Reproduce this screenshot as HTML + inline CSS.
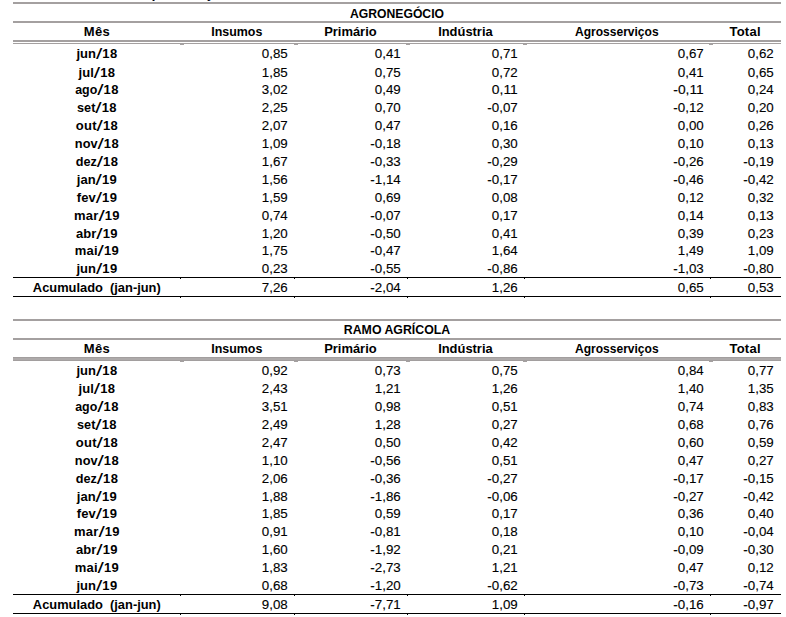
<!DOCTYPE html>
<html><head><meta charset="utf-8"><style>
html,body{margin:0;padding:0;background:#fff;width:786px;height:617px;overflow:hidden}
svg{display:block}
text{font-family:"Liberation Sans",sans-serif;white-space:pre}
text.r{font-size:13px;fill:#000;stroke:#000;stroke-width:0.12px;}
text.sl{font-size:15.5px;font-weight:normal;fill:#000}
text.b{font-size:13px;font-weight:bold;fill:#000;}
</style></head><body>
<svg width="786" height="617" viewBox="0 0 786 617">
<rect x="13" y="2" width="768" height="2" fill="#a4a0a0"/>
<rect x="13" y="21" width="768" height="2" fill="#a4a0a0"/>
<rect x="13" y="40" width="768" height="2" fill="#a4a0a0"/>
<rect x="13" y="43" width="768" height="1" fill="#a4a0a0"/>
<rect x="180" y="44" width="4" height="1" fill="#a4a0a0"/>
<rect x="294" y="44" width="4" height="1" fill="#a4a0a0"/>
<rect x="406" y="44" width="4" height="1" fill="#a4a0a0"/>
<rect x="523" y="44" width="4" height="1" fill="#a4a0a0"/>
<rect x="709" y="44" width="4" height="1" fill="#a4a0a0"/>
<rect x="13" y="277" width="768" height="1" fill="#000"/>
<rect x="13" y="296" width="768" height="1" fill="#000"/>
<rect x="180" y="278" width="1" height="1" fill="#000"/>
<rect x="180" y="297" width="1" height="1" fill="#000"/>
<rect x="294" y="278" width="1" height="1" fill="#000"/>
<rect x="294" y="297" width="1" height="1" fill="#000"/>
<rect x="407" y="278" width="1" height="1" fill="#000"/>
<rect x="407" y="297" width="1" height="1" fill="#000"/>
<rect x="524" y="278" width="1" height="1" fill="#000"/>
<rect x="524" y="297" width="1" height="1" fill="#000"/>
<rect x="710" y="278" width="1" height="1" fill="#000"/>
<rect x="710" y="297" width="1" height="1" fill="#000"/>
<text class="b" x="397.00" y="18" text-anchor="middle" textLength="94.08" lengthAdjust="spacingAndGlyphs">AGRONEGÓCIO</text>
<text class="b" x="96.80" y="36" text-anchor="middle" textLength="26.05" lengthAdjust="spacing">Mês</text>
<text class="b" x="236.80" y="36" text-anchor="middle" textLength="51.17" lengthAdjust="spacingAndGlyphs">Insumos</text>
<text class="b" x="350.40" y="36" text-anchor="middle" textLength="52.49" lengthAdjust="spacingAndGlyphs">Primário</text>
<text class="b" x="465.40" y="36" text-anchor="middle" textLength="54.51" lengthAdjust="spacingAndGlyphs">Indústria</text>
<text class="b" x="616.80" y="36" text-anchor="middle" textLength="83.65" lengthAdjust="spacingAndGlyphs">Agrosserviços</text>
<text class="b" x="745.00" y="36" text-anchor="middle" textLength="31.07" lengthAdjust="spacing">Total</text>
<text class="b" x="76.47" y="58" text-anchor="start" textLength="19.49" lengthAdjust="spacingAndGlyphs">jun</text>
<text class="sl" x="95.96" y="58.5" textLength="6.30" lengthAdjust="spacingAndGlyphs">/</text>
<text class="b" x="102.26" y="58" text-anchor="start" textLength="14.87" lengthAdjust="spacing">18</text>
<text class="r" x="287.80" y="58" text-anchor="end" textLength="25.96" lengthAdjust="spacingAndGlyphs">0,85</text>
<text class="r" x="400.80" y="58" text-anchor="end" textLength="25.96" lengthAdjust="spacingAndGlyphs">0,41</text>
<text class="r" x="517.80" y="58" text-anchor="end" textLength="25.96" lengthAdjust="spacingAndGlyphs">0,71</text>
<text class="r" x="703.80" y="58" text-anchor="end" textLength="25.96" lengthAdjust="spacingAndGlyphs">0,67</text>
<text class="r" x="773.80" y="58" text-anchor="end" textLength="25.96" lengthAdjust="spacingAndGlyphs">0,62</text>
<text class="b" x="78.61" y="77" text-anchor="start" textLength="15.22" lengthAdjust="spacing">jul</text>
<text class="sl" x="93.82" y="77.5" textLength="6.30" lengthAdjust="spacingAndGlyphs">/</text>
<text class="b" x="100.13" y="77" text-anchor="start" textLength="14.87" lengthAdjust="spacing">18</text>
<text class="r" x="287.80" y="77" text-anchor="end" textLength="25.96" lengthAdjust="spacingAndGlyphs">1,85</text>
<text class="r" x="400.80" y="77" text-anchor="end" textLength="25.96" lengthAdjust="spacingAndGlyphs">0,75</text>
<text class="r" x="517.80" y="77" text-anchor="end" textLength="25.96" lengthAdjust="spacingAndGlyphs">0,72</text>
<text class="r" x="703.80" y="77" text-anchor="end" textLength="25.96" lengthAdjust="spacingAndGlyphs">0,41</text>
<text class="r" x="773.80" y="77" text-anchor="end" textLength="25.96" lengthAdjust="spacingAndGlyphs">0,65</text>
<text class="b" x="75.18" y="94" text-anchor="start" textLength="22.08" lengthAdjust="spacingAndGlyphs">ago</text>
<text class="sl" x="97.25" y="94.5" textLength="6.30" lengthAdjust="spacingAndGlyphs">/</text>
<text class="b" x="103.56" y="94" text-anchor="start" textLength="14.87" lengthAdjust="spacing">18</text>
<text class="r" x="287.80" y="94" text-anchor="end" textLength="25.96" lengthAdjust="spacingAndGlyphs">3,02</text>
<text class="r" x="400.80" y="94" text-anchor="end" textLength="25.96" lengthAdjust="spacingAndGlyphs">0,49</text>
<text class="r" x="517.80" y="94" text-anchor="end" textLength="25.96" lengthAdjust="spacingAndGlyphs">0,11</text>
<text class="r" x="703.80" y="94" text-anchor="end" textLength="30.45" lengthAdjust="spacingAndGlyphs">-0,11</text>
<text class="r" x="773.80" y="94" text-anchor="end" textLength="25.96" lengthAdjust="spacingAndGlyphs">0,24</text>
<text class="b" x="77.06" y="112" text-anchor="start" textLength="18.32" lengthAdjust="spacingAndGlyphs">set</text>
<text class="sl" x="95.37" y="112.5" textLength="6.30" lengthAdjust="spacingAndGlyphs">/</text>
<text class="b" x="101.68" y="112" text-anchor="start" textLength="14.87" lengthAdjust="spacing">18</text>
<text class="r" x="287.80" y="112" text-anchor="end" textLength="25.96" lengthAdjust="spacingAndGlyphs">2,25</text>
<text class="r" x="400.80" y="112" text-anchor="end" textLength="25.96" lengthAdjust="spacingAndGlyphs">0,70</text>
<text class="r" x="517.80" y="112" text-anchor="end" textLength="30.45" lengthAdjust="spacingAndGlyphs">-0,07</text>
<text class="r" x="703.80" y="112" text-anchor="end" textLength="30.45" lengthAdjust="spacingAndGlyphs">-0,12</text>
<text class="r" x="773.80" y="112" text-anchor="end" textLength="25.96" lengthAdjust="spacingAndGlyphs">0,20</text>
<text class="b" x="75.79" y="130" text-anchor="start" textLength="20.84" lengthAdjust="spacing">out</text>
<text class="sl" x="96.64" y="130.5" textLength="6.30" lengthAdjust="spacingAndGlyphs">/</text>
<text class="b" x="102.94" y="130" text-anchor="start" textLength="14.87" lengthAdjust="spacing">18</text>
<text class="r" x="287.80" y="130" text-anchor="end" textLength="25.96" lengthAdjust="spacingAndGlyphs">2,07</text>
<text class="r" x="400.80" y="130" text-anchor="end" textLength="25.96" lengthAdjust="spacingAndGlyphs">0,47</text>
<text class="r" x="517.80" y="130" text-anchor="end" textLength="25.96" lengthAdjust="spacingAndGlyphs">0,16</text>
<text class="r" x="703.80" y="130" text-anchor="end" textLength="25.96" lengthAdjust="spacingAndGlyphs">0,00</text>
<text class="r" x="773.80" y="130" text-anchor="end" textLength="25.96" lengthAdjust="spacingAndGlyphs">0,26</text>
<text class="b" x="74.87" y="148" text-anchor="start" textLength="22.70" lengthAdjust="spacingAndGlyphs">nov</text>
<text class="sl" x="97.56" y="148.5" textLength="6.30" lengthAdjust="spacingAndGlyphs">/</text>
<text class="b" x="103.86" y="148" text-anchor="start" textLength="14.87" lengthAdjust="spacing">18</text>
<text class="r" x="287.80" y="148" text-anchor="end" textLength="25.96" lengthAdjust="spacingAndGlyphs">1,09</text>
<text class="r" x="400.80" y="148" text-anchor="end" textLength="30.45" lengthAdjust="spacingAndGlyphs">-0,18</text>
<text class="r" x="517.80" y="148" text-anchor="end" textLength="25.96" lengthAdjust="spacingAndGlyphs">0,30</text>
<text class="r" x="703.80" y="148" text-anchor="end" textLength="25.96" lengthAdjust="spacingAndGlyphs">0,10</text>
<text class="r" x="773.80" y="148" text-anchor="end" textLength="25.96" lengthAdjust="spacingAndGlyphs">0,13</text>
<text class="b" x="75.67" y="166" text-anchor="start" textLength="21.08" lengthAdjust="spacingAndGlyphs">dez</text>
<text class="sl" x="96.76" y="166.5" textLength="6.30" lengthAdjust="spacingAndGlyphs">/</text>
<text class="b" x="103.06" y="166" text-anchor="start" textLength="14.87" lengthAdjust="spacing">18</text>
<text class="r" x="287.80" y="166" text-anchor="end" textLength="25.96" lengthAdjust="spacingAndGlyphs">1,67</text>
<text class="r" x="400.80" y="166" text-anchor="end" textLength="30.45" lengthAdjust="spacingAndGlyphs">-0,33</text>
<text class="r" x="517.80" y="166" text-anchor="end" textLength="30.45" lengthAdjust="spacingAndGlyphs">-0,29</text>
<text class="r" x="703.80" y="166" text-anchor="end" textLength="30.45" lengthAdjust="spacingAndGlyphs">-0,26</text>
<text class="r" x="773.80" y="166" text-anchor="end" textLength="30.45" lengthAdjust="spacingAndGlyphs">-0,19</text>
<text class="b" x="76.79" y="184" text-anchor="start" textLength="18.86" lengthAdjust="spacing">jan</text>
<text class="sl" x="95.64" y="184.5" textLength="6.30" lengthAdjust="spacingAndGlyphs">/</text>
<text class="b" x="101.95" y="184" text-anchor="start" textLength="14.87" lengthAdjust="spacing">19</text>
<text class="r" x="287.80" y="184" text-anchor="end" textLength="25.96" lengthAdjust="spacingAndGlyphs">1,56</text>
<text class="r" x="400.80" y="184" text-anchor="end" textLength="30.45" lengthAdjust="spacingAndGlyphs">-1,14</text>
<text class="r" x="517.80" y="184" text-anchor="end" textLength="30.45" lengthAdjust="spacingAndGlyphs">-0,17</text>
<text class="r" x="703.80" y="184" text-anchor="end" textLength="30.45" lengthAdjust="spacingAndGlyphs">-0,46</text>
<text class="r" x="773.80" y="184" text-anchor="end" textLength="30.45" lengthAdjust="spacingAndGlyphs">-0,42</text>
<text class="b" x="76.73" y="202" text-anchor="start" textLength="18.96" lengthAdjust="spacing">fev</text>
<text class="sl" x="95.70" y="202.5" textLength="6.30" lengthAdjust="spacingAndGlyphs">/</text>
<text class="b" x="102.00" y="202" text-anchor="start" textLength="14.87" lengthAdjust="spacing">19</text>
<text class="r" x="287.80" y="202" text-anchor="end" textLength="25.96" lengthAdjust="spacingAndGlyphs">1,59</text>
<text class="r" x="400.80" y="202" text-anchor="end" textLength="25.96" lengthAdjust="spacingAndGlyphs">0,69</text>
<text class="r" x="517.80" y="202" text-anchor="end" textLength="25.96" lengthAdjust="spacingAndGlyphs">0,08</text>
<text class="r" x="703.80" y="202" text-anchor="end" textLength="25.96" lengthAdjust="spacingAndGlyphs">0,12</text>
<text class="r" x="773.80" y="202" text-anchor="end" textLength="25.96" lengthAdjust="spacingAndGlyphs">0,32</text>
<text class="b" x="74.02" y="220" text-anchor="start" textLength="24.39" lengthAdjust="spacing">mar</text>
<text class="sl" x="98.41" y="220.5" textLength="6.30" lengthAdjust="spacingAndGlyphs">/</text>
<text class="b" x="104.71" y="220" text-anchor="start" textLength="14.87" lengthAdjust="spacing">19</text>
<text class="r" x="287.80" y="220" text-anchor="end" textLength="25.96" lengthAdjust="spacingAndGlyphs">0,74</text>
<text class="r" x="400.80" y="220" text-anchor="end" textLength="30.45" lengthAdjust="spacingAndGlyphs">-0,07</text>
<text class="r" x="517.80" y="220" text-anchor="end" textLength="25.96" lengthAdjust="spacingAndGlyphs">0,17</text>
<text class="r" x="703.80" y="220" text-anchor="end" textLength="25.96" lengthAdjust="spacingAndGlyphs">0,14</text>
<text class="r" x="773.80" y="220" text-anchor="end" textLength="25.96" lengthAdjust="spacingAndGlyphs">0,13</text>
<text class="b" x="76.05" y="238" text-anchor="start" textLength="20.32" lengthAdjust="spacing">abr</text>
<text class="sl" x="96.38" y="238.5" textLength="6.30" lengthAdjust="spacingAndGlyphs">/</text>
<text class="b" x="102.68" y="238" text-anchor="start" textLength="14.87" lengthAdjust="spacing">19</text>
<text class="r" x="287.80" y="238" text-anchor="end" textLength="25.96" lengthAdjust="spacingAndGlyphs">1,20</text>
<text class="r" x="400.80" y="238" text-anchor="end" textLength="30.45" lengthAdjust="spacingAndGlyphs">-0,50</text>
<text class="r" x="517.80" y="238" text-anchor="end" textLength="25.96" lengthAdjust="spacingAndGlyphs">0,41</text>
<text class="r" x="703.80" y="238" text-anchor="end" textLength="25.96" lengthAdjust="spacingAndGlyphs">0,39</text>
<text class="r" x="773.80" y="238" text-anchor="end" textLength="25.96" lengthAdjust="spacingAndGlyphs">0,23</text>
<text class="b" x="74.83" y="255" text-anchor="start" textLength="22.77" lengthAdjust="spacing">mai</text>
<text class="sl" x="97.60" y="255.5" textLength="6.30" lengthAdjust="spacingAndGlyphs">/</text>
<text class="b" x="103.90" y="255" text-anchor="start" textLength="14.87" lengthAdjust="spacing">19</text>
<text class="r" x="287.80" y="255" text-anchor="end" textLength="25.96" lengthAdjust="spacingAndGlyphs">1,75</text>
<text class="r" x="400.80" y="255" text-anchor="end" textLength="30.45" lengthAdjust="spacingAndGlyphs">-0,47</text>
<text class="r" x="517.80" y="255" text-anchor="end" textLength="25.96" lengthAdjust="spacingAndGlyphs">1,64</text>
<text class="r" x="703.80" y="255" text-anchor="end" textLength="25.96" lengthAdjust="spacingAndGlyphs">1,49</text>
<text class="r" x="773.80" y="255" text-anchor="end" textLength="25.96" lengthAdjust="spacingAndGlyphs">1,09</text>
<text class="b" x="76.47" y="273" text-anchor="start" textLength="19.49" lengthAdjust="spacingAndGlyphs">jun</text>
<text class="sl" x="95.96" y="273.5" textLength="6.30" lengthAdjust="spacingAndGlyphs">/</text>
<text class="b" x="102.26" y="273" text-anchor="start" textLength="14.87" lengthAdjust="spacing">19</text>
<text class="r" x="287.80" y="273" text-anchor="end" textLength="25.96" lengthAdjust="spacingAndGlyphs">0,23</text>
<text class="r" x="400.80" y="273" text-anchor="end" textLength="30.45" lengthAdjust="spacingAndGlyphs">-0,55</text>
<text class="r" x="517.80" y="273" text-anchor="end" textLength="30.45" lengthAdjust="spacingAndGlyphs">-0,86</text>
<text class="r" x="703.80" y="273" text-anchor="end" textLength="30.45" lengthAdjust="spacingAndGlyphs">-1,03</text>
<text class="r" x="773.80" y="273" text-anchor="end" textLength="30.45" lengthAdjust="spacingAndGlyphs">-0,80</text>
<text class="b" x="96.80" y="292" text-anchor="middle" textLength="127.90" lengthAdjust="spacingAndGlyphs">Acumulado  (jan-jun)</text>
<text class="r" x="287.80" y="292" text-anchor="end" textLength="25.96" lengthAdjust="spacingAndGlyphs">7,26</text>
<text class="r" x="400.80" y="292" text-anchor="end" textLength="30.45" lengthAdjust="spacingAndGlyphs">-2,04</text>
<text class="r" x="517.80" y="292" text-anchor="end" textLength="25.96" lengthAdjust="spacingAndGlyphs">1,26</text>
<text class="r" x="703.80" y="292" text-anchor="end" textLength="25.96" lengthAdjust="spacingAndGlyphs">0,65</text>
<text class="r" x="773.80" y="292" text-anchor="end" textLength="25.96" lengthAdjust="spacingAndGlyphs">0,53</text>
<rect x="13" y="319" width="768" height="2" fill="#a4a0a0"/>
<rect x="13" y="338" width="768" height="2" fill="#a4a0a0"/>
<rect x="13" y="357" width="768" height="1" fill="#a29e9e"/>
<rect x="13" y="358" width="768" height="2" fill="#aeaaaa"/>
<rect x="13" y="360" width="768" height="1" fill="#a29e9e"/>
<rect x="180" y="361" width="4" height="1" fill="#a4a0a0"/>
<rect x="294" y="361" width="4" height="1" fill="#a4a0a0"/>
<rect x="406" y="361" width="4" height="1" fill="#a4a0a0"/>
<rect x="523" y="361" width="4" height="1" fill="#a4a0a0"/>
<rect x="709" y="361" width="4" height="1" fill="#a4a0a0"/>
<rect x="13" y="594" width="768" height="1" fill="#000"/>
<rect x="13" y="613" width="768" height="1" fill="#000"/>
<rect x="180" y="595" width="1" height="1" fill="#000"/>
<rect x="180" y="614" width="1" height="1" fill="#000"/>
<rect x="294" y="595" width="1" height="1" fill="#000"/>
<rect x="294" y="614" width="1" height="1" fill="#000"/>
<rect x="407" y="595" width="1" height="1" fill="#000"/>
<rect x="407" y="614" width="1" height="1" fill="#000"/>
<rect x="524" y="595" width="1" height="1" fill="#000"/>
<rect x="524" y="614" width="1" height="1" fill="#000"/>
<rect x="710" y="595" width="1" height="1" fill="#000"/>
<rect x="710" y="614" width="1" height="1" fill="#000"/>
<text class="b" x="397.00" y="334" text-anchor="middle" textLength="106.37" lengthAdjust="spacingAndGlyphs">RAMO AGRÍCOLA</text>
<text class="b" x="96.80" y="353" text-anchor="middle" textLength="26.05" lengthAdjust="spacing">Mês</text>
<text class="b" x="236.80" y="353" text-anchor="middle" textLength="51.17" lengthAdjust="spacingAndGlyphs">Insumos</text>
<text class="b" x="350.40" y="353" text-anchor="middle" textLength="52.49" lengthAdjust="spacingAndGlyphs">Primário</text>
<text class="b" x="465.40" y="353" text-anchor="middle" textLength="54.51" lengthAdjust="spacingAndGlyphs">Indústria</text>
<text class="b" x="616.80" y="353" text-anchor="middle" textLength="83.65" lengthAdjust="spacingAndGlyphs">Agrosserviços</text>
<text class="b" x="745.00" y="353" text-anchor="middle" textLength="31.07" lengthAdjust="spacing">Total</text>
<text class="b" x="76.47" y="375" text-anchor="start" textLength="19.49" lengthAdjust="spacingAndGlyphs">jun</text>
<text class="sl" x="95.96" y="375.5" textLength="6.30" lengthAdjust="spacingAndGlyphs">/</text>
<text class="b" x="102.26" y="375" text-anchor="start" textLength="14.87" lengthAdjust="spacing">18</text>
<text class="r" x="287.80" y="375" text-anchor="end" textLength="25.96" lengthAdjust="spacingAndGlyphs">0,92</text>
<text class="r" x="400.80" y="375" text-anchor="end" textLength="25.96" lengthAdjust="spacingAndGlyphs">0,73</text>
<text class="r" x="517.80" y="375" text-anchor="end" textLength="25.96" lengthAdjust="spacingAndGlyphs">0,75</text>
<text class="r" x="703.80" y="375" text-anchor="end" textLength="25.96" lengthAdjust="spacingAndGlyphs">0,84</text>
<text class="r" x="773.80" y="375" text-anchor="end" textLength="25.96" lengthAdjust="spacingAndGlyphs">0,77</text>
<text class="b" x="78.61" y="393" text-anchor="start" textLength="15.22" lengthAdjust="spacing">jul</text>
<text class="sl" x="93.82" y="393.5" textLength="6.30" lengthAdjust="spacingAndGlyphs">/</text>
<text class="b" x="100.13" y="393" text-anchor="start" textLength="14.87" lengthAdjust="spacing">18</text>
<text class="r" x="287.80" y="393" text-anchor="end" textLength="25.96" lengthAdjust="spacingAndGlyphs">2,43</text>
<text class="r" x="400.80" y="393" text-anchor="end" textLength="25.96" lengthAdjust="spacingAndGlyphs">1,21</text>
<text class="r" x="517.80" y="393" text-anchor="end" textLength="25.96" lengthAdjust="spacingAndGlyphs">1,26</text>
<text class="r" x="703.80" y="393" text-anchor="end" textLength="25.96" lengthAdjust="spacingAndGlyphs">1,40</text>
<text class="r" x="773.80" y="393" text-anchor="end" textLength="25.96" lengthAdjust="spacingAndGlyphs">1,35</text>
<text class="b" x="75.18" y="411" text-anchor="start" textLength="22.08" lengthAdjust="spacingAndGlyphs">ago</text>
<text class="sl" x="97.25" y="411.5" textLength="6.30" lengthAdjust="spacingAndGlyphs">/</text>
<text class="b" x="103.56" y="411" text-anchor="start" textLength="14.87" lengthAdjust="spacing">18</text>
<text class="r" x="287.80" y="411" text-anchor="end" textLength="25.96" lengthAdjust="spacingAndGlyphs">3,51</text>
<text class="r" x="400.80" y="411" text-anchor="end" textLength="25.96" lengthAdjust="spacingAndGlyphs">0,98</text>
<text class="r" x="517.80" y="411" text-anchor="end" textLength="25.96" lengthAdjust="spacingAndGlyphs">0,51</text>
<text class="r" x="703.80" y="411" text-anchor="end" textLength="25.96" lengthAdjust="spacingAndGlyphs">0,74</text>
<text class="r" x="773.80" y="411" text-anchor="end" textLength="25.96" lengthAdjust="spacingAndGlyphs">0,83</text>
<text class="b" x="77.06" y="429" text-anchor="start" textLength="18.32" lengthAdjust="spacingAndGlyphs">set</text>
<text class="sl" x="95.37" y="429.5" textLength="6.30" lengthAdjust="spacingAndGlyphs">/</text>
<text class="b" x="101.68" y="429" text-anchor="start" textLength="14.87" lengthAdjust="spacing">18</text>
<text class="r" x="287.80" y="429" text-anchor="end" textLength="25.96" lengthAdjust="spacingAndGlyphs">2,49</text>
<text class="r" x="400.80" y="429" text-anchor="end" textLength="25.96" lengthAdjust="spacingAndGlyphs">1,28</text>
<text class="r" x="517.80" y="429" text-anchor="end" textLength="25.96" lengthAdjust="spacingAndGlyphs">0,27</text>
<text class="r" x="703.80" y="429" text-anchor="end" textLength="25.96" lengthAdjust="spacingAndGlyphs">0,68</text>
<text class="r" x="773.80" y="429" text-anchor="end" textLength="25.96" lengthAdjust="spacingAndGlyphs">0,76</text>
<text class="b" x="75.79" y="447" text-anchor="start" textLength="20.84" lengthAdjust="spacing">out</text>
<text class="sl" x="96.64" y="447.5" textLength="6.30" lengthAdjust="spacingAndGlyphs">/</text>
<text class="b" x="102.94" y="447" text-anchor="start" textLength="14.87" lengthAdjust="spacing">18</text>
<text class="r" x="287.80" y="447" text-anchor="end" textLength="25.96" lengthAdjust="spacingAndGlyphs">2,47</text>
<text class="r" x="400.80" y="447" text-anchor="end" textLength="25.96" lengthAdjust="spacingAndGlyphs">0,50</text>
<text class="r" x="517.80" y="447" text-anchor="end" textLength="25.96" lengthAdjust="spacingAndGlyphs">0,42</text>
<text class="r" x="703.80" y="447" text-anchor="end" textLength="25.96" lengthAdjust="spacingAndGlyphs">0,60</text>
<text class="r" x="773.80" y="447" text-anchor="end" textLength="25.96" lengthAdjust="spacingAndGlyphs">0,59</text>
<text class="b" x="74.87" y="465" text-anchor="start" textLength="22.70" lengthAdjust="spacingAndGlyphs">nov</text>
<text class="sl" x="97.56" y="465.5" textLength="6.30" lengthAdjust="spacingAndGlyphs">/</text>
<text class="b" x="103.86" y="465" text-anchor="start" textLength="14.87" lengthAdjust="spacing">18</text>
<text class="r" x="287.80" y="465" text-anchor="end" textLength="25.96" lengthAdjust="spacingAndGlyphs">1,10</text>
<text class="r" x="400.80" y="465" text-anchor="end" textLength="30.45" lengthAdjust="spacingAndGlyphs">-0,56</text>
<text class="r" x="517.80" y="465" text-anchor="end" textLength="25.96" lengthAdjust="spacingAndGlyphs">0,51</text>
<text class="r" x="703.80" y="465" text-anchor="end" textLength="25.96" lengthAdjust="spacingAndGlyphs">0,47</text>
<text class="r" x="773.80" y="465" text-anchor="end" textLength="25.96" lengthAdjust="spacingAndGlyphs">0,27</text>
<text class="b" x="75.67" y="483" text-anchor="start" textLength="21.08" lengthAdjust="spacingAndGlyphs">dez</text>
<text class="sl" x="96.76" y="483.5" textLength="6.30" lengthAdjust="spacingAndGlyphs">/</text>
<text class="b" x="103.06" y="483" text-anchor="start" textLength="14.87" lengthAdjust="spacing">18</text>
<text class="r" x="287.80" y="483" text-anchor="end" textLength="25.96" lengthAdjust="spacingAndGlyphs">2,06</text>
<text class="r" x="400.80" y="483" text-anchor="end" textLength="30.45" lengthAdjust="spacingAndGlyphs">-0,36</text>
<text class="r" x="517.80" y="483" text-anchor="end" textLength="30.45" lengthAdjust="spacingAndGlyphs">-0,27</text>
<text class="r" x="703.80" y="483" text-anchor="end" textLength="30.45" lengthAdjust="spacingAndGlyphs">-0,17</text>
<text class="r" x="773.80" y="483" text-anchor="end" textLength="30.45" lengthAdjust="spacingAndGlyphs">-0,15</text>
<text class="b" x="76.79" y="501" text-anchor="start" textLength="18.86" lengthAdjust="spacing">jan</text>
<text class="sl" x="95.64" y="501.5" textLength="6.30" lengthAdjust="spacingAndGlyphs">/</text>
<text class="b" x="101.95" y="501" text-anchor="start" textLength="14.87" lengthAdjust="spacing">19</text>
<text class="r" x="287.80" y="501" text-anchor="end" textLength="25.96" lengthAdjust="spacingAndGlyphs">1,88</text>
<text class="r" x="400.80" y="501" text-anchor="end" textLength="30.45" lengthAdjust="spacingAndGlyphs">-1,86</text>
<text class="r" x="517.80" y="501" text-anchor="end" textLength="30.45" lengthAdjust="spacingAndGlyphs">-0,06</text>
<text class="r" x="703.80" y="501" text-anchor="end" textLength="30.45" lengthAdjust="spacingAndGlyphs">-0,27</text>
<text class="r" x="773.80" y="501" text-anchor="end" textLength="30.45" lengthAdjust="spacingAndGlyphs">-0,42</text>
<text class="b" x="76.73" y="518" text-anchor="start" textLength="18.96" lengthAdjust="spacing">fev</text>
<text class="sl" x="95.70" y="518.5" textLength="6.30" lengthAdjust="spacingAndGlyphs">/</text>
<text class="b" x="102.00" y="518" text-anchor="start" textLength="14.87" lengthAdjust="spacing">19</text>
<text class="r" x="287.80" y="518" text-anchor="end" textLength="25.96" lengthAdjust="spacingAndGlyphs">1,85</text>
<text class="r" x="400.80" y="518" text-anchor="end" textLength="25.96" lengthAdjust="spacingAndGlyphs">0,59</text>
<text class="r" x="517.80" y="518" text-anchor="end" textLength="25.96" lengthAdjust="spacingAndGlyphs">0,17</text>
<text class="r" x="703.80" y="518" text-anchor="end" textLength="25.96" lengthAdjust="spacingAndGlyphs">0,36</text>
<text class="r" x="773.80" y="518" text-anchor="end" textLength="25.96" lengthAdjust="spacingAndGlyphs">0,40</text>
<text class="b" x="74.02" y="536" text-anchor="start" textLength="24.39" lengthAdjust="spacing">mar</text>
<text class="sl" x="98.41" y="536.5" textLength="6.30" lengthAdjust="spacingAndGlyphs">/</text>
<text class="b" x="104.71" y="536" text-anchor="start" textLength="14.87" lengthAdjust="spacing">19</text>
<text class="r" x="287.80" y="536" text-anchor="end" textLength="25.96" lengthAdjust="spacingAndGlyphs">0,91</text>
<text class="r" x="400.80" y="536" text-anchor="end" textLength="30.45" lengthAdjust="spacingAndGlyphs">-0,81</text>
<text class="r" x="517.80" y="536" text-anchor="end" textLength="25.96" lengthAdjust="spacingAndGlyphs">0,18</text>
<text class="r" x="703.80" y="536" text-anchor="end" textLength="25.96" lengthAdjust="spacingAndGlyphs">0,10</text>
<text class="r" x="773.80" y="536" text-anchor="end" textLength="30.45" lengthAdjust="spacingAndGlyphs">-0,04</text>
<text class="b" x="76.05" y="554" text-anchor="start" textLength="20.32" lengthAdjust="spacing">abr</text>
<text class="sl" x="96.38" y="554.5" textLength="6.30" lengthAdjust="spacingAndGlyphs">/</text>
<text class="b" x="102.68" y="554" text-anchor="start" textLength="14.87" lengthAdjust="spacing">19</text>
<text class="r" x="287.80" y="554" text-anchor="end" textLength="25.96" lengthAdjust="spacingAndGlyphs">1,60</text>
<text class="r" x="400.80" y="554" text-anchor="end" textLength="30.45" lengthAdjust="spacingAndGlyphs">-1,92</text>
<text class="r" x="517.80" y="554" text-anchor="end" textLength="25.96" lengthAdjust="spacingAndGlyphs">0,21</text>
<text class="r" x="703.80" y="554" text-anchor="end" textLength="30.45" lengthAdjust="spacingAndGlyphs">-0,09</text>
<text class="r" x="773.80" y="554" text-anchor="end" textLength="30.45" lengthAdjust="spacingAndGlyphs">-0,30</text>
<text class="b" x="74.83" y="572" text-anchor="start" textLength="22.77" lengthAdjust="spacing">mai</text>
<text class="sl" x="97.60" y="572.5" textLength="6.30" lengthAdjust="spacingAndGlyphs">/</text>
<text class="b" x="103.90" y="572" text-anchor="start" textLength="14.87" lengthAdjust="spacing">19</text>
<text class="r" x="287.80" y="572" text-anchor="end" textLength="25.96" lengthAdjust="spacingAndGlyphs">1,83</text>
<text class="r" x="400.80" y="572" text-anchor="end" textLength="30.45" lengthAdjust="spacingAndGlyphs">-2,73</text>
<text class="r" x="517.80" y="572" text-anchor="end" textLength="25.96" lengthAdjust="spacingAndGlyphs">1,21</text>
<text class="r" x="703.80" y="572" text-anchor="end" textLength="25.96" lengthAdjust="spacingAndGlyphs">0,47</text>
<text class="r" x="773.80" y="572" text-anchor="end" textLength="25.96" lengthAdjust="spacingAndGlyphs">0,12</text>
<text class="b" x="76.47" y="590" text-anchor="start" textLength="19.49" lengthAdjust="spacingAndGlyphs">jun</text>
<text class="sl" x="95.96" y="590.5" textLength="6.30" lengthAdjust="spacingAndGlyphs">/</text>
<text class="b" x="102.26" y="590" text-anchor="start" textLength="14.87" lengthAdjust="spacing">19</text>
<text class="r" x="287.80" y="590" text-anchor="end" textLength="25.96" lengthAdjust="spacingAndGlyphs">0,68</text>
<text class="r" x="400.80" y="590" text-anchor="end" textLength="30.45" lengthAdjust="spacingAndGlyphs">-1,20</text>
<text class="r" x="517.80" y="590" text-anchor="end" textLength="30.45" lengthAdjust="spacingAndGlyphs">-0,62</text>
<text class="r" x="703.80" y="590" text-anchor="end" textLength="30.45" lengthAdjust="spacingAndGlyphs">-0,73</text>
<text class="r" x="773.80" y="590" text-anchor="end" textLength="30.45" lengthAdjust="spacingAndGlyphs">-0,74</text>
<text class="b" x="96.80" y="609" text-anchor="middle" textLength="127.90" lengthAdjust="spacingAndGlyphs">Acumulado  (jan-jun)</text>
<text class="r" x="287.80" y="609" text-anchor="end" textLength="25.96" lengthAdjust="spacingAndGlyphs">9,08</text>
<text class="r" x="400.80" y="609" text-anchor="end" textLength="30.45" lengthAdjust="spacingAndGlyphs">-7,71</text>
<text class="r" x="517.80" y="609" text-anchor="end" textLength="25.96" lengthAdjust="spacingAndGlyphs">1,09</text>
<text class="r" x="703.80" y="609" text-anchor="end" textLength="30.45" lengthAdjust="spacingAndGlyphs">-0,16</text>
<text class="r" x="773.80" y="609" text-anchor="end" textLength="30.45" lengthAdjust="spacingAndGlyphs">-0,97</text>
<rect x="152" y="0" width="1" height="1" fill="#b08a6a"/>
<rect x="153" y="0" width="1" height="1" fill="#000"/>
<rect x="154" y="0" width="1" height="1" fill="#4a7cc0"/>
<rect x="207" y="0" width="1" height="1" fill="#d0a070"/>
<rect x="208" y="0" width="1" height="1" fill="#101010"/>
<rect x="209" y="0" width="1" height="1" fill="#103080"/>
<rect x="210" y="0" width="1" height="1" fill="#a0d0f0"/>
</svg>
</body></html>
